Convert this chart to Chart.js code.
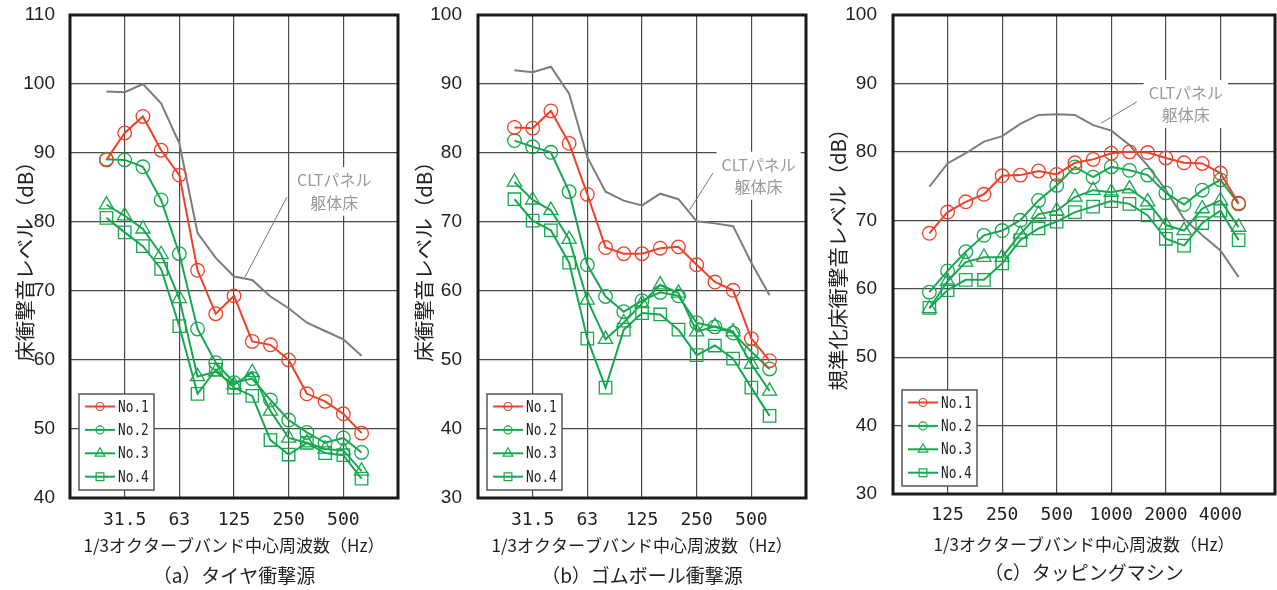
<!DOCTYPE html>
<html lang="ja">
<head>
<meta charset="utf-8">
<script src="https://cdn.jsdelivr.net/npm/chart.js@4/dist/chart.umd.min.js"></script>
<style>
html, body { margin: 0; padding: 0; background: #fff; }
#wrap { position: relative; width: 1277px; height: 590px; overflow: hidden; }
#wrap canvas { position: absolute; top: 0; }
</style>
</head>
<body>
<div id="wrap">
  <canvas id="chartA" width="410" height="590" style="left:0"></canvas>
  <canvas id="chartB" width="410" height="590" style="left:410px"></canvas>
  <canvas id="chartC" width="457" height="590" style="left:820px"></canvas>
</div>
<script>
// 1/3オクターブバンド中心周波数
const bandsAB = ['25', '31.5', '40', '50', '63', '80', '100', '125', '160', '200', '250', '315', '400', '500', '630'];
const ticksAB = ['31.5', '63', '125', '250', '500'];
const bandsC = ['100', '125', '160', '200', '250', '315', '400', '500', '630', '800', '1000', '1250', '1600', '2000', '2500', '3150', '4000', '5000'];
const ticksC = ['125', '250', '500', '1000', '2000', '4000'];
const seriesNames = ['No.1', 'No.2', 'No.3', 'No.4'];
const refName = 'CLTパネル躯体床';

// (a) タイヤ衝撃源
const tireRef = [98.9, 98.8, 100.0, 97.2, 91.4, 78.4, 74.8, 72.1, 71.6, 69.2, 67.5, 65.4, 64.2, 63.0, 60.6];
const tireNo1 = [89.0, 92.9, 95.3, 90.4, 86.8, 73.0, 66.7, 69.3, 62.7, 62.2, 60.0, 55.1, 54.0, 52.2, 49.4];
const tireNo2 = [89.1, 89.0, 88.0, 83.2, 75.4, 64.5, 59.6, 56.7, 57.3, 54.2, 51.3, 49.5, 48.0, 48.7, 46.6];
const tireNo3 = [82.5, 80.9, 79.0, 75.3, 68.9, 57.6, 58.3, 56.4, 58.2, 52.6, 48.7, 48.0, 47.1, 46.9, 43.9];
const tireNo4 = [80.6, 78.5, 76.5, 73.2, 64.9, 55.1, 58.6, 56.0, 54.8, 48.4, 46.3, 48.0, 46.5, 46.2, 42.8];

// (b) ゴムボール衝撃源
const ballRef = [92.0, 91.7, 92.5, 88.6, 79.4, 74.4, 73.1, 72.4, 74.1, 73.3, 70.1, 69.8, 69.4, 64.1, 59.4];
const ballNo1 = [83.7, 83.6, 86.1, 81.4, 74.0, 66.3, 65.4, 65.4, 66.2, 66.4, 63.8, 61.3, 60.1, 53.1, 49.9];
const ballNo2 = [81.8, 80.9, 80.1, 74.4, 63.8, 59.2, 57.0, 58.6, 59.8, 59.3, 55.4, 54.8, 53.9, 51.2, 48.7];
const ballNo3 = [75.8, 73.2, 71.7, 67.5, 58.7, 53.0, 55.4, 58.2, 60.9, 59.7, 54.1, 54.9, 54.1, 49.4, 45.5];
const ballNo4 = [73.3, 70.2, 68.8, 64.1, 53.1, 46.0, 54.4, 56.8, 56.6, 54.4, 50.7, 52.1, 50.2, 46.0, 41.9];

// (c) タッピングマシン
const tapRef = [74.9, 78.3, 79.8, 81.5, 82.3, 84.1, 85.4, 85.5, 85.4, 83.9, 83.1, 81.0, 78.0, 74.4, 70.2, 67.8, 65.6, 61.7];
const tapNo1 = [68.1, 71.2, 72.7, 73.8, 76.5, 76.6, 77.2, 76.7, 78.4, 78.9, 79.8, 80.0, 79.9, 79.1, 78.4, 78.3, 76.9, 72.5];
const tapNo2 = [59.5, 62.6, 65.4, 67.8, 68.5, 70.0, 72.9, 75.1, 77.8, 76.3, 77.8, 77.3, 76.6, 74.0, 72.3, 74.4, 75.9, 72.4];
const tapNo3 = [57.1, 61.1, 63.9, 64.6, 64.6, 68.0, 70.9, 71.4, 73.4, 74.4, 74.1, 74.6, 72.7, 69.3, 68.5, 71.7, 72.9, 69.0];
const tapNo4 = [57.2, 59.8, 61.3, 61.3, 63.7, 67.1, 68.8, 69.8, 71.2, 72.0, 72.8, 72.4, 70.7, 67.3, 66.3, 69.6, 71.4, 67.1];

const RED = '#ee4128';
const GREEN = '#17a84f';
const GRAY = '#7c7c7c';
const JP = "'Noto Sans CJK JP', 'Noto Sans', sans-serif";
const NUM = "'Liberation Sans', Arial, sans-serif";
const MONO = "'DejaVu Sans Mono', 'Liberation Mono', monospace";

const pointStyles = ['circle', 'circle', 'triangle', 'rect'];
const pointSizes = [6.8, 6.8, 8.2, 8.8];

// 各グラフの配置（キャンバス内px）と注記位置（データ単位）
const panels = [
  {
    id: 'chartA', width: 410, bands: bandsAB, tickLabels: ticksAB, xMax: 16,
    yMin: 40, yMax: 110, ref: tireRef, series: [tireNo1, tireNo2, tireNo3, tireNo4],
    yTitle: '床衝撃音レベル（dB）', caption: '（a）タイヤ衝撃源',
    area: { left: 70, right: 398, top: 15, bottom: 498 },
    yTitleX: 25, yTickRight: 55, tickY: 520, xTitleY: 546, captionY: 576,
    note: { x: 12.5, y: 86.1, y2: 82.8, from: [9.9, 83.6], to: [7.6, 72.0] }
  },
  {
    id: 'chartB', width: 410, bands: bandsAB, tickLabels: ticksAB, xMax: 16,
    yMin: 30, yMax: 100, ref: ballRef, series: [ballNo1, ballNo2, ballNo3, ballNo4],
    yTitle: '床衝撃音レベル（dB）', caption: '（b）ゴムボール衝撃源',
    area: { left: 68, right: 396, top: 15, bottom: 498 },
    yTitleX: 14, yTickRight: 52, tickY: 520, xTitleY: 546, captionY: 576,
    note: { x: 13.4, y: 78.3, y2: 75.1, from: [10.9, 77.1], to: [9.6, 71.7] }
  },
  {
    id: 'chartC', width: 457, bands: bandsC, tickLabels: ticksC, xMax: 19,
    yMin: 30, yMax: 100, ref: tapRef, series: [tapNo1, tapNo2, tapNo3, tapNo4],
    yTitle: '規準化床衝撃音レベル（dB）', caption: '（c）タッピングマシン',
    area: { left: 73, right: 455, top: 15, bottom: 494 },
    yTitleX: 18, yTickRight: 57, tickY: 515, xTitleY: 545, captionY: 573,
    note: { x: 14.1, y: 88.6, y2: 85.4, from: [11.4, 87.3], to: [9.45, 84.2] }
  }
];

function drawMarker(ctx, style, x, y, r) {
  ctx.beginPath();
  if (style === 'circle') {
    ctx.arc(x, y, r, 0, Math.PI * 2);
  } else if (style === 'triangle') {
    ctx.moveTo(x, y - r);
    ctx.lineTo(x + r * 0.866, y + r * 0.5);
    ctx.lineTo(x - r * 0.866, y + r * 0.5);
    ctx.closePath();
  } else {
    ctx.rect(x - r * 0.707, y - r * 0.707, r * 1.414, r * 1.414);
  }
  ctx.stroke();
}

// 注記「CLTパネル 躯体床」と引出線
const notePlugin = {
  id: 'note',
  beforeDatasetsDraw(chart, args, opts) {
    const { ctx, scales: { x, y } } = chart;
    const n = opts.note;
    const cx = x.getPixelForValue(n.x);
    const y1 = y.getPixelForValue(n.y);
    const y2 = y.getPixelForValue(n.y2);
    ctx.save();
    ctx.font = '16px ' + JP;
    const w = ctx.measureText('CLTパネル').width;
    ctx.fillStyle = '#fff';
    ctx.fillRect(cx - w / 2 - 5, y1 - 13, w + 10, y2 - y1 + 26);
    ctx.strokeStyle = '#777';
    ctx.lineWidth = 1;
    ctx.beginPath();
    ctx.moveTo(x.getPixelForValue(n.from[0]), y.getPixelForValue(n.from[1]));
    ctx.lineTo(x.getPixelForValue(n.to[0]), y.getPixelForValue(n.to[1]));
    ctx.stroke();
    ctx.fillStyle = '#999';
    ctx.textAlign = 'center';
    ctx.textBaseline = 'middle';
    ctx.fillText('CLTパネル', cx, y1);
    ctx.fillText('躯体床', cx, y2);
    ctx.restore();
  }
};

// 凡例（グラフ内左下）と外枠
const framePlugin = {
  id: 'frame',
  afterDatasetsDraw(chart) {
    const { ctx, chartArea: a } = chart;
    const bx = a.left + 9, bw = 75, bh = 96, by = a.bottom - 8 - bh;
    ctx.save();
    ctx.fillStyle = '#fff';
    ctx.fillRect(bx, by, bw, bh);
    ctx.strokeStyle = '#555';
    ctx.lineWidth = 1.5;
    ctx.strokeRect(bx, by, bw, bh);
    chart.data.datasets.forEach((ds, k) => {
      if (k >= seriesNames.length) return;
      const ly = by + 12.5 + k * 23.4;
      ctx.strokeStyle = ds.borderColor;
      ctx.lineWidth = 2;
      ctx.beginPath();
      ctx.moveTo(bx + 6, ly);
      ctx.lineTo(bx + 36, ly);
      ctx.stroke();
      ctx.lineWidth = 1.2;
      drawMarker(ctx, ds.pointStyle, bx + 21, ly, ds.pointStyle === 'circle' ? 4 : 5.5);
      ctx.save();
      ctx.translate(bx + 39, ly + 1);
      ctx.scale(0.8, 1);
      ctx.fillStyle = '#222';
      ctx.font = '16px ' + MONO;
      ctx.textAlign = 'left';
      ctx.textBaseline = 'middle';
      ctx.fillText(ds.label, 0, 0);
      ctx.restore();
    });
    ctx.restore();
  },
  afterDraw(chart) {
    const { ctx, chartArea: a } = chart;
    ctx.save();
    ctx.strokeStyle = '#1a1a1a';
    ctx.lineWidth = 3;
    ctx.strokeRect(a.left, a.top, a.right - a.left, a.bottom - a.top);
    ctx.restore();
  }
};

function makeChart(p) {
  const toPoints = arr => arr.map((v, i) => ({ x: i, y: v }));
  const datasets = p.series.map((arr, k) => ({
    label: seriesNames[k],
    data: toPoints(arr),
    borderColor: k === 0 ? RED : GREEN,
    borderWidth: 2,
    pointStyle: pointStyles[k],
    pointRadius: pointSizes[k],
    pointBorderWidth: 1.3,
    pointBackgroundColor: 'rgba(0,0,0,0)',
    tension: 0
  }));
  datasets.push({
    label: refName,
    data: toPoints(p.ref),
    borderColor: GRAY,
    borderWidth: 2,
    pointRadius: 0,
    tension: 0
  });

  const a = p.area;
  const titleFont = 19, titleLH = titleFont * 1.2;
  const capBottom = 590 - p.captionY - titleLH / 2;
  const capHeight = titleLH + 2 + capBottom;
  const xHeight = 590 - capHeight - a.bottom;
  const tickFont = 18, xTitleFont = 17;
  const yTitleFont = 20.5;

  return new Chart(document.getElementById(p.id), {
    type: 'line',
    data: { datasets },
    plugins: [notePlugin, framePlugin],
    options: {
      responsive: false,
      animation: false,
      events: [],
      layout: { autoPadding: false, padding: { left: 0, right: p.width - a.right, top: a.top, bottom: 0 } },
      plugins: {
        legend: { display: false },
        tooltip: { enabled: false },
        title: {
          display: true,
          position: 'bottom',
          fullSize: false,
          text: p.caption,
          color: '#222',
          font: { family: JP, size: titleFont, weight: 'normal', lineHeight: 1.2 },
          padding: { top: 2, bottom: capBottom }
        },
        note: { note: p.note }
      },
      scales: {
        x: {
          type: 'linear',
          min: -2,
          max: p.xMax,
          afterFit: s => { s.height = xHeight; s.paddingLeft = 0; s.paddingRight = 0; },
          border: { display: false },
          grid: { color: '#4a4a4a', lineWidth: 1.2, drawTicks: false },
          ticks: {
            stepSize: 3,
            autoSkip: false,
            maxRotation: 0,
            padding: p.tickY - a.bottom - tickFont * 0.6,
            color: '#222',
            font: { family: MONO, size: tickFont, lineHeight: 1.2 },
            callback: v => (p.bands[v] !== undefined && p.tickLabels.includes(p.bands[v])) ? p.bands[v] : ''
          },
          title: {
            display: true,
            text: '1/3オクターブバンド中心周波数（Hz）',
            color: '#222',
            font: { family: JP, size: xTitleFont, lineHeight: 1.2 },
            padding: { top: 0, bottom: a.bottom + xHeight - p.xTitleY - xTitleFont * 0.6 }
          }
        },
        y: {
          min: p.yMin,
          max: p.yMax,
          afterFit: s => { s.width = a.left; s.paddingTop = 0; s.paddingBottom = 0; },
          border: { display: false },
          grid: { color: '#4a4a4a', lineWidth: 1.2, drawTicks: false },
          ticks: {
            stepSize: 10,
            padding: a.left - p.yTickRight,
            color: '#222',
            font: { family: NUM, size: 19 }
          },
          title: {
            display: true,
            text: p.yTitle,
            color: '#222',
            font: { family: JP, size: yTitleFont, lineHeight: 1.2 },
            padding: { top: p.yTitleX - yTitleFont * 0.6, bottom: 0 }
          }
        }
      }
    }
  });
}

panels.forEach(makeChart);
</script>
</body>
</html>
